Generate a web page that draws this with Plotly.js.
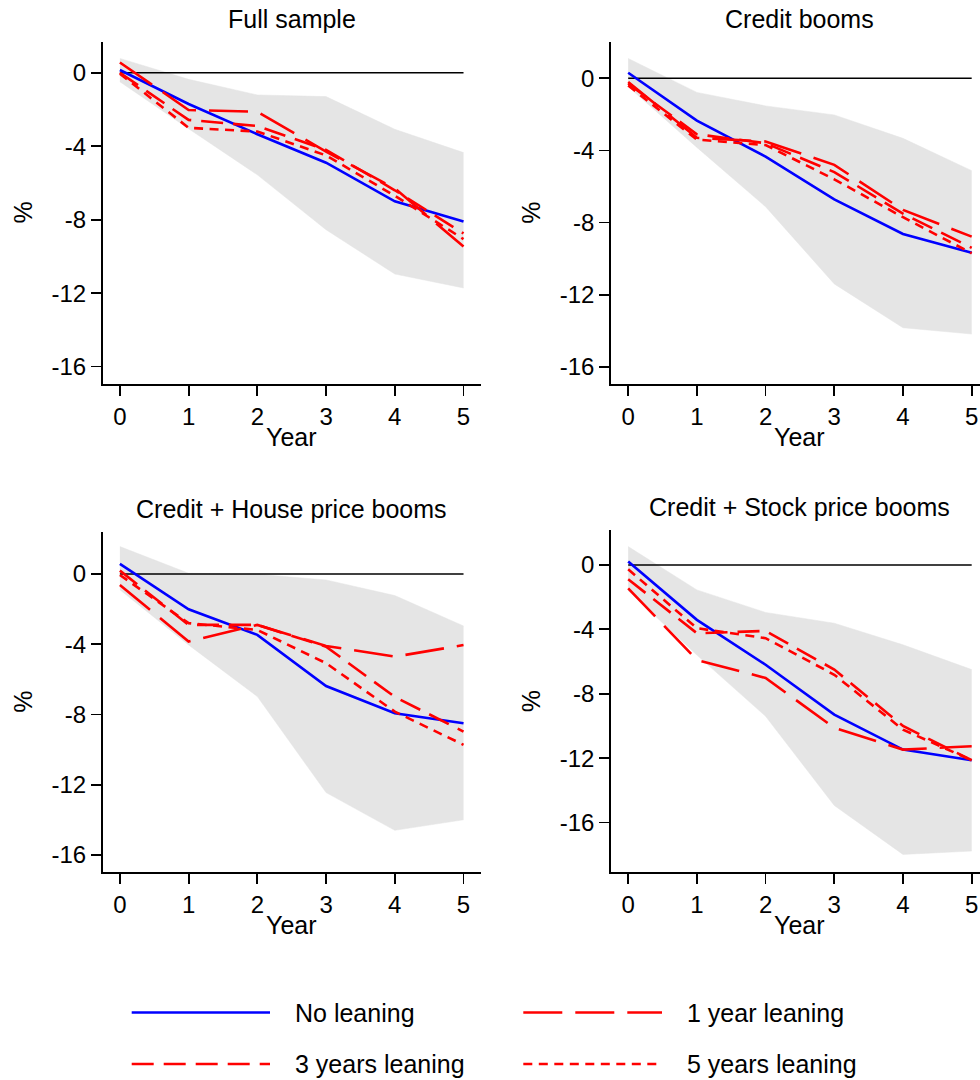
<!DOCTYPE html>
<html>
<head>
<meta charset="utf-8">
<script src="https://cdn.plot.ly/plotly-3.0.1.min.js"></script>
<style>
  html, body { margin: 0; padding: 0; background: #ffffff; overflow: hidden; }
  #chart { width: 980px; height: 1080px; }
</style>
</head>
<body>
<div id="chart"></div>
<script>
// ---------- data ----------
const years = [0, 1, 2, 3, 4, 5];
const yTicks = [0, -4, -8, -12, -16];
const panelTitles = ["Full sample", "Credit booms", "Credit + House price booms", "Credit + Stock price booms"];
const seriesNames = ["No leaning", "1 year leaning", "3 years leaning", "5 years leaning"];

// Full sample
const fsNo   = [0.15, -1.70, -3.35, -4.90, -7.00, -8.10];
const fs1y   = [0.56, -2.03, -2.12, -4.30, -6.30, -9.46];
const fs3y   = [0.00, -2.57, -2.90, -4.20, -6.40, -8.75];
const fs5y   = [-0.05, -3.00, -3.20, -4.50, -6.70, -9.06];
const fsHi   = [0.78, -0.36, -1.21, -1.30, -3.08, -4.35];
const fsLo   = [-0.49, -3.05, -5.56, -8.55, -10.96, -11.72];

// Credit booms
const cbNo   = [0.31, -2.35, -4.34, -6.71, -8.63, -9.67];
const cb1y   = [-0.20, -3.30, -3.50, -4.80, -7.30, -8.78];
const cb3y   = [-0.30, -3.10, -3.60, -5.20, -7.50, -9.40];
const cb5y   = [-0.40, -3.40, -3.70, -5.60, -7.70, -9.70];
const cbHi   = [1.10, -0.78, -1.53, -2.03, -3.33, -5.12];
const cbLo   = [-0.46, -3.83, -7.12, -11.40, -13.83, -14.18];

// Credit + House price booms
const hpNo   = [0.57, -2.01, -3.47, -6.38, -7.93, -8.50];
const hp1y   = [-0.63, -3.85, -2.90, -4.10, -4.71, -4.05];
const hp3y   = [0.19, -2.90, -2.90, -4.14, -7.00, -8.98];
const hp5y   = [-0.06, -2.80, -3.19, -5.08, -7.84, -9.73];
const hpHi   = [1.56, 0.04, -0.02, -0.34, -1.23, -2.96];
const hpLo   = [-0.90, -4.04, -6.98, -12.45, -14.60, -14.00];

// Credit + Stock price booms
const spNo   = [0.21, -3.41, -6.20, -9.30, -11.47, -12.13];
const sp1y   = [-1.45, -5.90, -7.02, -10.12, -11.47, -11.26];
const sp3y   = [-0.89, -4.24, -4.10, -6.50, -10.00, -12.13];
const sp5y   = [-0.27, -3.93, -4.55, -6.82, -10.23, -12.13];
const spHi   = [1.14, -1.55, -2.95, -3.62, -4.96, -6.50];
const spLo   = [-1.60, -5.60, -9.40, -14.94, -17.98, -17.77];

// ---------- styling / layout ----------
const W = 980, H = 1080;
const FONT = '"Liberation Sans", Arial, Helvetica, sans-serif';
const BLUE = 'rgb(0,0,255)', RED = 'rgb(255,0,0)', BAND = 'rgb(229,229,229)';
const styles = [
  {color: BLUE, dash: 'solid'},
  {color: RED, dash: '39px,13px'},
  {color: RED, dash: '22px,10px'},
  {color: RED, dash: '9px,6.5px'}
];

const px = v => v / W;
const py = v => 1 - v / H;

// pixel boxes of plot areas [left, right, top, bottom]
const boxes = [
  {l: 102.7, r: 480.7, t: 41.7, b: 384.0, xr: [-0.25, 5.25], yr: [-16.95, 1.69]},
  {l: 611.0, r: 980.0, t: 41.7, b: 384.0, xr: [-0.25, 5.121], yr: [-16.95, 2.03]},
  {l: 102.7, r: 480.7, t: 532.0, b: 872.3, xr: [-0.25, 5.25], yr: [-16.99, 2.39]},
  {l: 611.0, r: 980.0, t: 530.0, b: 872.3, xr: [-0.25, 5.121], yr: [-19.09, 2.17]}
];

const panels = [
  {no: fsNo, y1: fs1y, y3: fs3y, y5: fs5y, hi: fsHi, lo: fsLo},
  {no: cbNo, y1: cb1y, y3: cb3y, y5: cb5y, hi: cbHi, lo: cbLo},
  {no: hpNo, y1: hp1y, y3: hp3y, y5: hp5y, hi: hpHi, lo: hpLo},
  {no: spNo, y1: sp1y, y3: sp3y, y5: sp5y, hi: spHi, lo: spLo}
];

const traces = [];
const layout = {
  width: W, height: H,
  margin: {l: 0, r: 0, t: 0, b: 0},
  paper_bgcolor: '#ffffff', plot_bgcolor: '#ffffff',
  showlegend: false,
  font: {family: FONT, size: 24, color: '#000000'},
  annotations: [], shapes: []
};

panels.forEach((p, i) => {
  const n = i === 0 ? '' : String(i + 1);
  const xa = 'x' + n, ya = 'y' + n;
  const bx = boxes[i];
  // confidence band
  traces.push({x: years, y: p.hi, xaxis: xa, yaxis: ya, type: 'scatter', mode: 'lines',
    line: {color: BAND, width: 0.5}, hoverinfo: 'skip'});
  traces.push({x: years, y: p.lo, xaxis: xa, yaxis: ya, type: 'scatter', mode: 'lines',
    fill: 'tonexty', fillcolor: BAND, line: {color: BAND, width: 0.5}, hoverinfo: 'skip'});
  // zero reference line
  traces.push({x: [years[0], years[years.length - 1]], y: [0, 0], xaxis: xa, yaxis: ya,
    type: 'scatter', mode: 'lines', line: {color: '#000000', width: 1.6}, hoverinfo: 'skip'});
  // series
  [p.no, p.y1, p.y3, p.y5].forEach((vals, k) => {
    traces.push({x: years, y: vals, xaxis: xa, yaxis: ya, type: 'scatter', mode: 'lines',
      name: seriesNames[k], line: {color: styles[k].color, dash: styles[k].dash, width: 2.6}});
  });
  const axCommon = {
    showline: true, linecolor: '#000000', linewidth: 1.8,
    ticks: 'outside', ticklen: 10, tickwidth: 1.8, tickcolor: '#000000',
    showgrid: false, zeroline: false, fixedrange: true,
    tickfont: {family: FONT, size: 24, color: '#000000'}
  };
  layout['xaxis' + n] = Object.assign({}, axCommon, {
    domain: [px(bx.l), px(bx.r)], range: bx.xr, anchor: ya,
    tickmode: 'array', tickvals: years, ticktext: years.map(String)
  });
  layout['yaxis' + n] = Object.assign({}, axCommon, {
    domain: [py(bx.b), py(bx.t)], range: bx.yr, anchor: xa,
    tickmode: 'array', tickvals: yTicks, ticktext: yTicks.map(String)
  });
  const cx = (bx.l + (i % 2 === 0 ? bx.r : 980 + 8.7)) / 2;
  // panel title
  layout.annotations.push({text: panelTitles[i], xref: 'paper', yref: 'paper',
    x: px(cx), y: py(bx.t - 23), xanchor: 'center', yanchor: 'middle', showarrow: false,
    font: {family: FONT, size: 25, color: '#000000'}});
  // x axis title
  layout.annotations.push({text: 'Year', xref: 'paper', yref: 'paper',
    x: px(cx), y: py(bx.b + 53), xanchor: 'center', yanchor: 'middle', showarrow: false,
    font: {family: FONT, size: 25, color: '#000000'}});
  // y axis title
  layout.annotations.push({text: '%', xref: 'paper', yref: 'paper', textangle: -90,
    x: px(bx.l - 80), y: py((bx.t + bx.b) / 2), xanchor: 'center', yanchor: 'middle', showarrow: false,
    font: {family: FONT, size: 25, color: '#000000'}});
});

// ---------- legend (drawn manually, two columns) ----------
const legendPos = [
  {x0: 131.7, x1: 270.0, tx: 293.0, y: 1012.5},
  {x0: 523.3, x1: 662.0, tx: 685.0, y: 1012.5},
  {x0: 131.7, x1: 270.0, tx: 293.0, y: 1064.0},
  {x0: 523.3, x1: 662.0, tx: 685.0, y: 1064.0}
];
seriesNames.forEach((name, k) => {
  const lp = legendPos[k];
  layout.shapes.push({type: 'line', xref: 'paper', yref: 'paper',
    x0: px(lp.x0), x1: px(lp.x1), y0: py(lp.y), y1: py(lp.y),
    line: {color: styles[k].color, dash: styles[k].dash, width: 2.6}});
  layout.annotations.push({text: name, xref: 'paper', yref: 'paper',
    x: px(lp.tx), y: py(lp.y), xanchor: 'left', yanchor: 'middle', showarrow: false,
    font: {family: FONT, size: 25, color: '#000000'}});
});

Plotly.newPlot('chart', traces, layout, {staticPlot: true, displayModeBar: false});
</script>
</body>
</html>
